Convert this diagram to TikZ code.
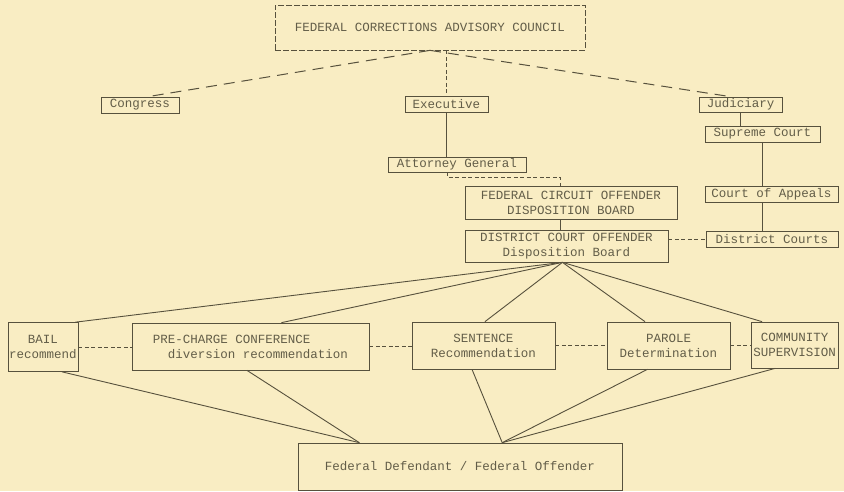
\documentclass[tikz,border=0pt]{standalone}
\usepackage{fontspec}
\setmainfont{Liberation Mono}
\usetikzlibrary{calc}
\definecolor{paper}{HTML}{F9EDC3}
\definecolor{ink}{HTML}{57513D}
\definecolor{inktext}{HTML}{625D48}
\begin{document}
\begin{tikzpicture}[x=1pt,y=-1pt,
  box/.style={draw=ink, line width=0.7pt, inner sep=0pt, align=center, text=inktext,
    font=\fontsize{12.5}{15}\selectfont},
  link/.style={draw=ink, line width=0.9pt},
  dlink/.style={draw=ink, line width=1pt, dash pattern=on 11pt off 7pt},
  sdlink/.style={draw=ink, line width=0.8pt, dash pattern=on 4pt off 2.5pt}]
\fill[paper] (0,0) rectangle (844,491);
\useasboundingbox (0,0) rectangle (844,491);

\node[box, dash pattern=on 6pt off 2pt, minimum width=310pt, minimum height=45pt] (council) at (430,27.5) {FEDERAL CORRECTIONS ADVISORY COUNCIL};
\node[box, minimum width=78pt, minimum height=16pt] (congress) at (140,105) {Congress};
\node[box, minimum width=83pt, minimum height=16pt] (exec) at (446.5,104) {Executive};
\node[box, minimum width=83pt, minimum height=15pt] (jud) at (740.5,104.5) {Judiciary};
\node[box, minimum width=115pt, minimum height=16pt] (sup) at (762.5,134) {Supreme Court};
\node[box, minimum width=138pt, minimum height=15pt] (ag) at (457,164.5) {Attorney General};
\node[box, minimum width=133pt, minimum height=16pt] (coa) at (771.5,194) {Court of Appeals};
\node[box, minimum width=212pt, minimum height=33pt] (fcodb) at (571,202.5) {FEDERAL CIRCUIT OFFENDER\\DISPOSITION BOARD};
\node[box, minimum width=132pt, minimum height=16pt] (dc) at (772,239) {District Courts};
\node[box, minimum width=203pt, minimum height=32pt] (dcodb) at (566.5,246) {DISTRICT COURT OFFENDER\\Disposition Board};

\node[box, minimum width=70pt, minimum height=49pt] (bail) at (43,347) {BAIL\\recommend};
\node[box, minimum width=237pt, minimum height=47pt, align=left] (pre) at (250.5,346.5) {PRE-CHARGE CONFERENCE\\\hspace*{15pt}diversion recommendation};
\node[box, minimum width=143pt, minimum height=47pt] (sent) at (483.5,345.5) {SENTENCE\\Recommendation};
\node[box, minimum width=123pt, minimum height=47pt] (parole) at (668.5,345.5) {PAROLE\\Determination};
\node[box, minimum width=87pt, minimum height=46pt] (comm) at (794.5,345) {COMMUNITY\\SUPERVISION};
\node[box, minimum width=324pt, minimum height=47pt] (fd) at (460,466.5) {Federal Defendant / Federal Offender};

% council links
\draw[dlink] (council.south) -- ($(congress.north west)!0.6!(congress.north east)$);
\draw[dlink] (council.south) -- ($(jud.north west)!0.38!(jud.north east)$);
\draw[sdlink] (exec.north |- council.south) -- (exec.north);

% hierarchy
\draw[link] (exec.south) -- (exec.south |- ag.north);
\coordinate (agout) at ($(ag.south west)!0.43!(ag.south east)$);
\coordinate (fcin) at ($(fcodb.north west)!0.45!(fcodb.north east)$);
\draw[sdlink] (agout) -- ++(0,5) -| (fcin);
\coordinate (fcout) at ($(fcodb.south west)!0.45!(fcodb.south east)$);
\draw[link] (fcout) -- (fcout |- dcodb.north);
\draw[link] (jud.south) -- (jud.south |- sup.north);
\draw[link] (sup.south) -- (sup.south |- coa.north);
\draw[link] (sup.south |- coa.south) -- (sup.south |- dc.north);
\draw[sdlink] (dcodb.east |- dc.west) -- (dc.west);

% fan from district board
\coordinate (apex) at ($(dcodb.south west)!0.48!(dcodb.south east)$);
\draw[link] (apex) -- ($(bail.north west)!0.96!(bail.north east)$);
\draw[link] (apex) -- ($(pre.north west)!0.63!(pre.north east)$);
\draw[link] (apex) -- ($(sent.north west)!0.51!(sent.north east)$);
\draw[link] (apex) -- ($(parole.north west)!0.31!(parole.north east)$);
\draw[link] (apex) -- ($(comm.north west)!0.13!(comm.north east)$);

% dashed links between process boxes
\draw[sdlink] (bail.east) -- (bail.east -| pre.west);
\draw[sdlink] (pre.east) -- (pre.east -| sent.west);
\draw[sdlink] (sent.east) -- (sent.east -| parole.west);
\draw[sdlink] (parole.east) -- (parole.east -| comm.west);

% links to defendant
\coordinate (fdl) at ($(fd.north west)!0.19!(fd.north east)$);
\coordinate (fdr) at ($(fd.north west)!0.63!(fd.north east)$);
\draw[link] ($(bail.south west)!0.77!(bail.south east)$) -- (fdl);
\draw[link] ($(pre.south west)!0.485!(pre.south east)$) -- (fdl);
\draw[link] ($(sent.south west)!0.42!(sent.south east)$) -- (fdr);
\draw[link] ($(parole.south west)!0.33!(parole.south east)$) -- (fdr);
\draw[link] ($(comm.south west)!0.28!(comm.south east)$) -- (fdr);
\end{tikzpicture}
\end{document}
